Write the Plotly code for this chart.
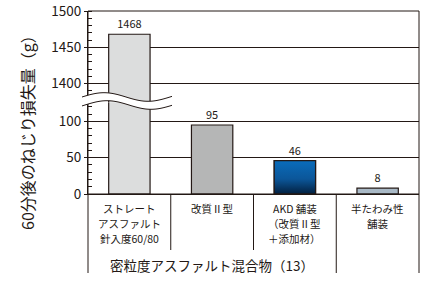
import math
import plotly.graph_objects as go

# ---------------- data ----------------
categories = [
    ["ストレート", "アスファルト", "針入度60/80"],
    ["改質Ⅱ型"],
    ["AKD 舗装", "（改質Ⅱ型", "＋添加材）"],
    ["半たわみ性", "舗装"],
]
values = [1468, 95, 46, 8]
value_labels = ["1468", "95", "46", "8"]
lower_ticks = [0, 50, 100]
upper_ticks = [1400, 1450, 1500]
group_label = "密粒度アスファルト混合物（13）"
y_title = "60分後のねじり損失量（g）"

# ---------------- style ----------------
FONT = "Noto Sans CJK JP"
INK = "#231815"
bar_colors = ["#dcdddd", "#b5b6b6", "#0a5fa8", "#a9b9c6"]
BAR_W = 0.5
LOWER_RANGE = [0, 126]
UPPER_RANGE = [1374, 1500]
W, H = 421, 283
ML, MR, MT, MB = 88, 2, 11, 89
PW, PH = W - ML - MR, H - MT - MB

def px_to_paper(x, y):
    return (x - ML) / PW, (H - MB - y) / PH

xs = list(range(len(categories)))

fig = go.Figure()

# lower segment bars
fig.add_trace(go.Bar(
    x=xs, y=values, yaxis="y", width=BAR_W,
    marker=dict(color=bar_colors, line=dict(color=INK, width=1.2)),
    text=[t if v <= LOWER_RANGE[1] else "" for t, v in zip(value_labels, values)],
    textposition="outside", textfont=dict(family=FONT, size=11, color=INK),
    hoverinfo="skip", showlegend=False,
))
# upper segment bars
fig.add_trace(go.Bar(
    x=xs, y=values, yaxis="y2", width=BAR_W,
    marker=dict(color=bar_colors, line=dict(color=INK, width=1.2)),
    text=[t if v >= UPPER_RANGE[0] else "" for t, v in zip(value_labels, values)],
    textposition="outside", textfont=dict(family=FONT, size=11, color=INK),
    hoverinfo="skip", showlegend=False,
))
# gradient overlay for the AKD bar (same data, drawn through the axes)
gi = 2
gx = [xs[gi] - BAR_W / 2, xs[gi] + BAR_W / 2, xs[gi] + BAR_W / 2, xs[gi] - BAR_W / 2, xs[gi] - BAR_W / 2]
gy = [0, 0, values[gi], values[gi], 0]
fig.add_trace(go.Scatter(
    x=gx, y=gy, yaxis="y", mode="lines", fill="toself",
    fillgradient=dict(type="vertical",
                      colorscale=[[0, "#03203f"], [0.45, "#0b5699"], [1, "#0a6cbb"]]),
    line=dict(color=INK, width=1.2),
    hoverinfo="skip", showlegend=False,
))

axis_common = dict(
    showline=True, linecolor=INK, linewidth=1,
    ticks="outside", ticklen=3, tickcolor=INK, tickwidth=1,
    showgrid=True, gridcolor=INK, gridwidth=1,
    zeroline=False, tickmode="linear", dtick=50,
    tickfont=dict(family=FONT, size=13.5, color=INK),
    ticklabeloverflow="allow",
    minor=dict(ticks="inside", ticklen=4, dtick=10, tickcolor=INK, tickwidth=1, showgrid=False),
    fixedrange=True, automargin=False,
)

fig.update_layout(
    width=W, height=H,
    margin=dict(l=ML, r=MR, t=MT, b=MB, pad=0, autoexpand=False),
    paper_bgcolor="white", plot_bgcolor="white",
    bargap=0.5,
    xaxis=dict(
        range=[-0.5, 3.5], tickmode="array", tickvals=xs,
        showticklabels=False,
        showline=True, linecolor=INK, linewidth=1, ticks="", showgrid=False,
        zeroline=False, anchor="y", automargin=False, fixedrange=True,
    ),
    yaxis=dict(domain=[0, 0.5], range=LOWER_RANGE, tick0=lower_ticks[0], anchor="x", **axis_common),
    yaxis2=dict(domain=[0.5, 1], range=UPPER_RANGE, tick0=upper_ticks[0], anchor="x", **axis_common),
)

shapes = []
# frame
shapes.append(dict(type="rect", xref="paper", yref="paper", x0=0, x1=1, y0=0, y1=1,
                   line=dict(color=INK, width=1), fillcolor="rgba(0,0,0,0)"))
# table lines below axis
_, yb_long = px_to_paper(0, 273)
_, yb_short = px_to_paper(0, 250)
for xp in (0, 1):
    shapes.append(dict(type="line", xref="paper", yref="paper", x0=xp, x1=xp, y0=yb_long, y1=0,
                       line=dict(color=INK, width=1)))
for xd, yb in ((0.5, yb_short), (1.5, yb_short), (2.5, yb_long)):
    shapes.append(dict(type="line", xref="x", yref="paper", x0=xd, x1=xd, y0=yb, y1=0,
                       line=dict(color=INK, width=1)))

# axis break band (wavy)
def wave(y0, shift):
    pts = []
    for i in range(0, 46):
        x = 82 + i * 2
        y = y0 - 4.3 * math.sin(2 * math.pi * (x - 82 - shift) / 88)
        pts.append(px_to_paper(x, y))
    return pts

up = wave(97, 0)
lo = wave(105, 3)
band = "M " + " L ".join(f"{a:.4f},{b:.4f}" for a, b in up) + " L " + \
       " L ".join(f"{a:.4f},{b:.4f}" for a, b in reversed(lo)) + " Z"
shapes.append(dict(type="path", xref="paper", yref="paper", path=band,
                   fillcolor="white", line=dict(width=0)))
for pts in (up, lo):
    p = "M " + " L ".join(f"{a:.4f},{b:.4f}" for a, b in pts)
    shapes.append(dict(type="path", xref="paper", yref="paper", path=p,
                       line=dict(color=INK, width=1)))

fig.update_layout(shapes=shapes)

annotations = []
# category labels, one annotation per line
for i, lines in zip(xs, categories):
    for j, line in enumerate(lines):
        _, yp = px_to_paper(0, 208.5 + 15 * j)
        annotations.append(dict(x=i, y=yp, xref="x", yref="paper", text=line, showarrow=False,
                                font=dict(family=FONT, size=10.5, color=INK),
                                xanchor="center", yanchor="middle"))

gx_c = (xs[0] + xs[2]) / 2
_, gy_p = px_to_paper(0, 265)
tx_p, ty_p = px_to_paper(27, 129)
annotations += [
    dict(x=gx_c, y=gy_p, xref="x", yref="paper", text=group_label, showarrow=False,
         font=dict(family=FONT, size=13.5, color=INK), xanchor="center", yanchor="middle"),
    dict(x=tx_p, y=ty_p, xref="paper", yref="paper", text=y_title, showarrow=False,
         textangle=-90, font=dict(family=FONT, size=16, color=INK),
         xanchor="center", yanchor="middle"),
]
fig.update_layout(annotations=annotations)

# remove the browser's default 8px page margin so the 421x283 figure fills the window
fig.write_html("out.html", config={"displayModeBar": False},
               post_script="document.body.style.margin='0';")
